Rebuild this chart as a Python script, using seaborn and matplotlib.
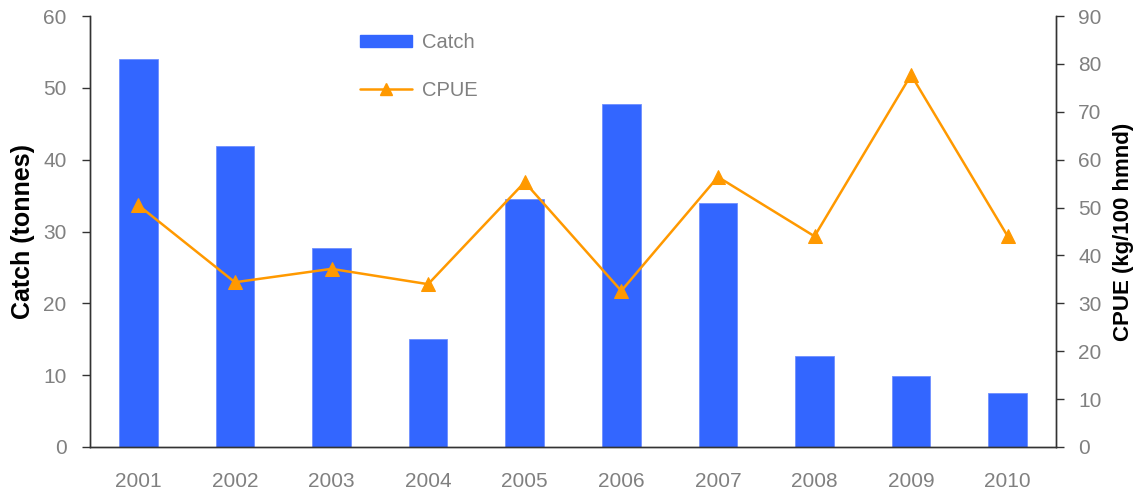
import numpy as np
import pandas as pd
import matplotlib
matplotlib.use("Agg")
import matplotlib.pyplot as plt
import seaborn as sns
from matplotlib.patches import Patch
from matplotlib.lines import Line2D

years = ["2001", "2002", "2003", "2004", "2005", "2006", "2007", "2008", "2009", "2010"]
catch = [54.0, 41.9, 27.7, 15.0, 34.5, 47.7, 34.0, 12.6, 9.9, 7.5]
cpue = [50.5, 34.4, 37.2, 34.0, 55.3, 32.6, 56.4, 44.0, 77.7, 44.0]

bar_color = "#3366FF"
line_color = "#FF9900"
tick_grey = "#808080"

sns.set_style("white")
plt.rcParams["font.family"] = ["Liberation Sans", "DejaVu Sans"]

fig = plt.figure(figsize=(11.43, 4.97), dpi=100)
ax = fig.add_axes([90 / 1143, 50 / 497, (1056 - 90) / 1143, (447 - 16) / 497])

df = pd.DataFrame({"Year": years, "Catch": catch, "CPUE": cpue})
sns.barplot(data=df, x="Year", y="Catch", ax=ax, color=bar_color, width=0.4,
            saturation=1, edgecolor="#6f8fff", linewidth=0.6)
ax.set_xlim(-0.5, len(years) - 0.5)
ax.set_ylim(0, 60)
ax.set_yticks(np.arange(0, 61, 10))
ax.set_xlabel("")
ax.set_ylabel("Catch (tonnes)", fontsize=18, fontweight="bold", labelpad=6,
              color="black")

ax2 = ax.twinx()
sns.lineplot(x=np.arange(len(years)), y=df["CPUE"], ax=ax2, color=line_color,
             marker="^", markersize=10, markeredgecolor=line_color, linewidth=1.8)
ax2.set_ylim(0, 90)
ax2.set_yticks(np.arange(0, 91, 10))
ax2.set_ylabel("CPUE (kg/100 hmnd)", fontsize=16, fontweight="bold", labelpad=8,
               color="black")
ax2.set_xlim(-0.5, len(years) - 0.5)

for a in (ax, ax2):
    for s in a.spines.values():
        s.set_color("#333333")
        s.set_linewidth(1)
    a.spines["top"].set_visible(False)
    a.tick_params(axis="y", colors="#333333", labelcolor=tick_grey, labelsize=15,
                  direction="out", length=6, width=1)
    a.tick_params(axis="x", labelcolor=tick_grey, labelsize=15, length=0, pad=18)
ax.tick_params(axis="y", left=True, pad=11)
ax2.tick_params(axis="y", right=True, pad=10)
ax.grid(False)
ax2.grid(False)

handles = [Patch(facecolor=bar_color, edgecolor=bar_color),
           Line2D([], [], color=line_color, marker="^", markersize=9, linewidth=1.8)]
fig.legend(handles, ["Catch", "CPUE"], loc="upper left",
           bbox_to_anchor=(360 / 1143, 1 - 33 / 497), frameon=False,
           borderpad=0, borderaxespad=0,
           fontsize=14.5, labelcolor=tick_grey, handlelength=2.6, handleheight=0.6,
           labelspacing=1.45, handletextpad=0.5)

fig.savefig("out.png", dpi=100)
